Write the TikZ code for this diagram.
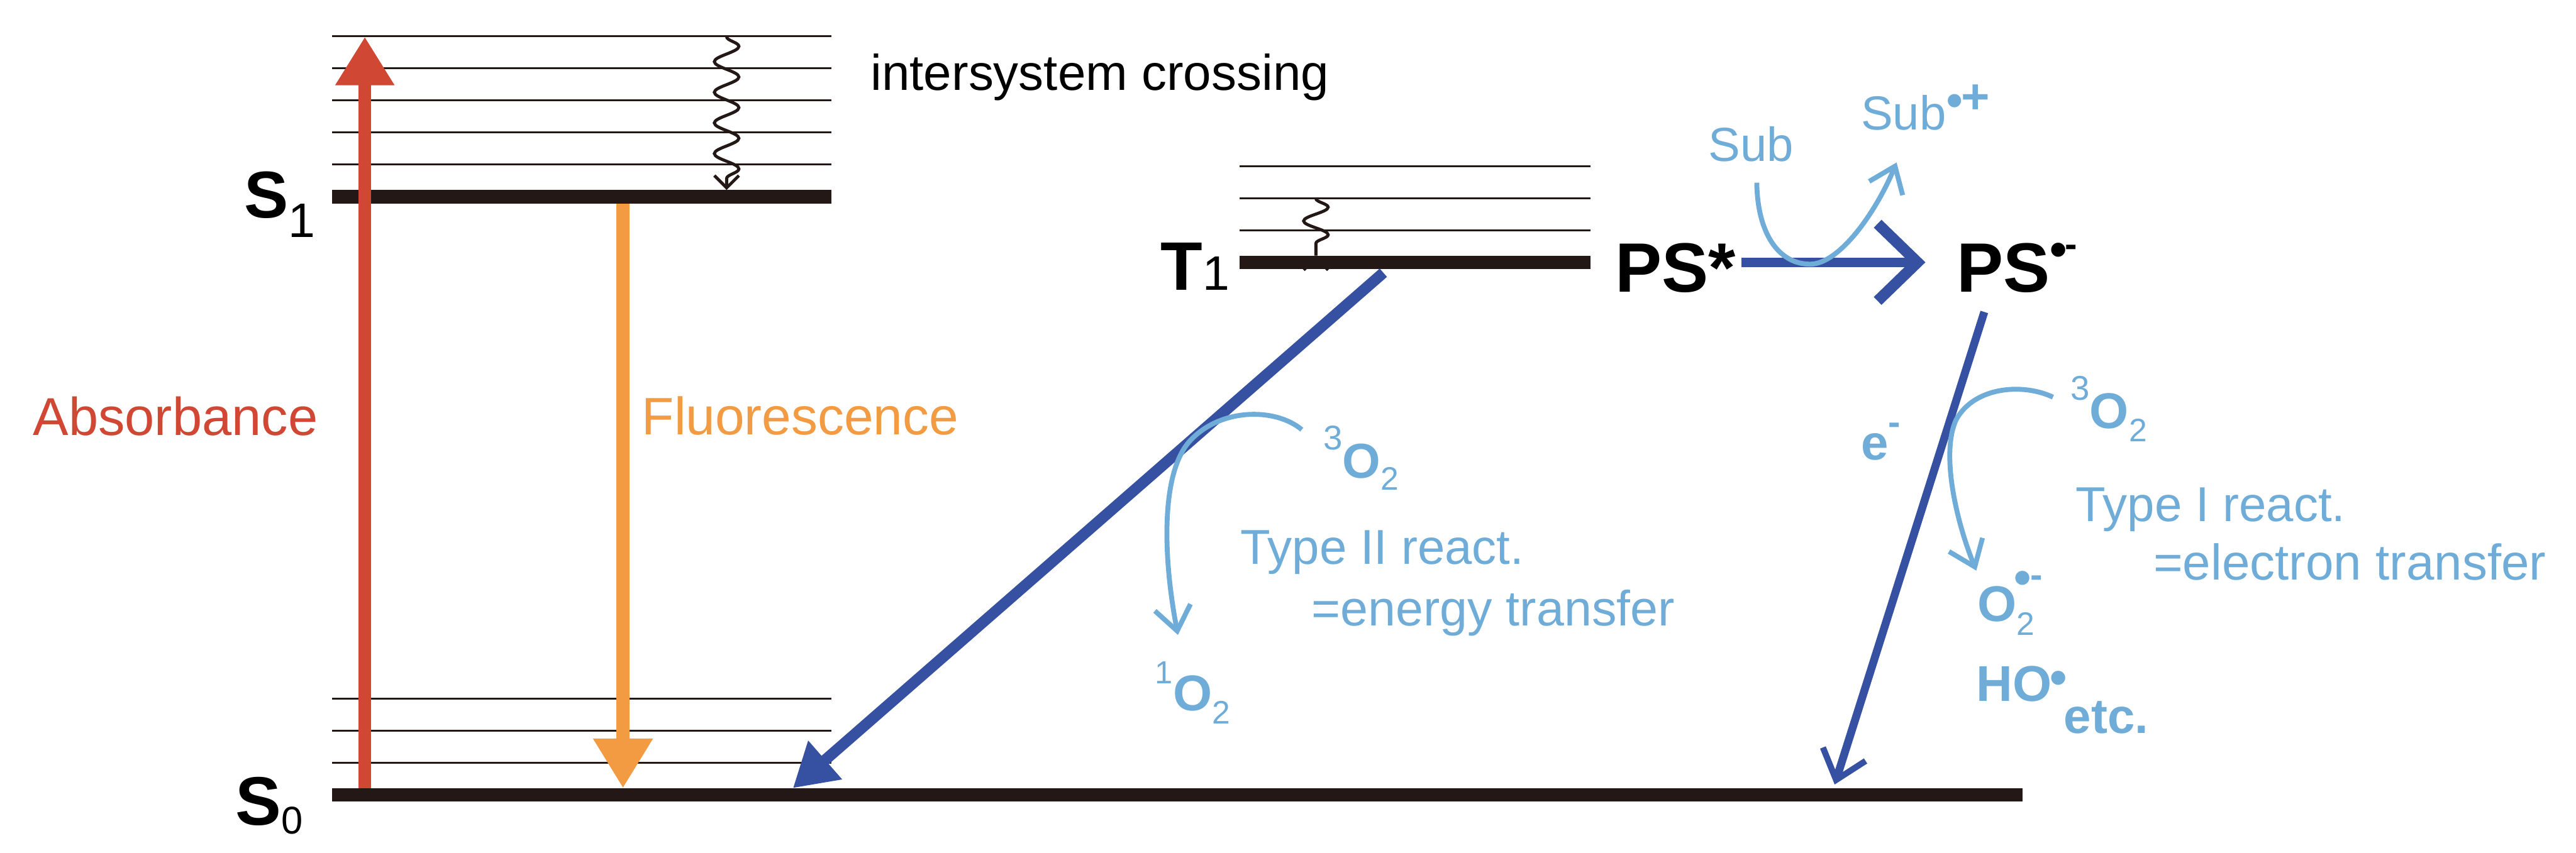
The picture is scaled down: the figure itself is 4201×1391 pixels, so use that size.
\documentclass[tikz,border=0pt]{standalone}
\usepackage{fontspec}
\setmainfont{Liberation Sans}
\usetikzlibrary{arrows.meta,decorations.pathmorphing}
\definecolor{lvl}{RGB}{35,24,21}
\definecolor{absred}{RGB}{208,71,51}
\definecolor{fluor}{RGB}{242,155,66}
\definecolor{dblue}{RGB}{54,81,161}
\definecolor{lblue}{RGB}{111,173,216}
\newcommand\fsz[1]{\fontsize{#1}{#1}\selectfont}
\begin{document}
\begin{tikzpicture}[x=0.1pt,y=-0.1pt,
  thinlvl/.style={draw=lvl,line width=0.32pt},
  thicklvl/.style={draw=lvl,line width=2.2pt},
  lbl/.style={anchor=base west,inner sep=0pt,outer sep=0pt},
  wavy/.style={draw=lvl,line width=0.5pt,decorate,decoration={snake,amplitude=2pt,segment length=5pt,post length=1.5pt},-{Straight Barb[length=2pt,width=4pt]}},
  lbarrow/.style={draw=lblue,line width=0.8pt,-{Straight Barb[length=3.9pt,width=5.9pt]}},
]
\useasboundingbox (0,0) rectangle (4201,1391);
% ---- S1 manifold
\foreach \yy in {59,111,164,216,268} \draw[thinlvl] (542,\yy) -- (1356,\yy);
\draw[thicklvl] (542,321) -- (1356,321);
% ---- S0 manifold
\foreach \yy in {1140,1192,1245} \draw[thinlvl] (542,\yy) -- (1356,\yy);
\draw[thicklvl] (542,1297) -- (3298,1297);
% ---- T1 manifold
\foreach \yy in {271,324,376} \draw[thinlvl] (2022,\yy) -- (2594,\yy);
\draw[thicklvl] (2022,428) -- (2594,428);

% ---- labels of states
\node[lbl] (S1) at (398,355) {\fsz{10.8}\bfseries S\fsz{7.9}\mdseries\raisebox{-3.2pt}{1}};
\node[lbl] (S0) at (384,1346) {\fsz{11.2}\bfseries S\fsz{6.3}\mdseries\raisebox{-1.5pt}{0}};
\node[lbl] (T1) at (1893,473) {\fsz{11.2}\bfseries T\fsz{7.9}\mdseries 1};
\node[lbl] (PSs) at (2634,476) {\fsz{11.4}\bfseries PS*};
\node[lbl] (PSr) at (3191,476) {\fsz{11.4}\bfseries PS\raisebox{4.2pt}{\fsz{8}•}\kern-0.3pt\raisebox{5.7pt}{\fsz{6}-}};

\node[lbl, absred] (absl) at (54,710) {\fsz{8.7}Absorbance};
\node[lbl, fluor] (fll) at (1047,709) {\fsz{8.6}Fluorescence};
\node[lbl] (isc) at (1420,147) {\fsz{8.2}intersystem crossing};

% ---- wavy relaxations
\coordinate (w1a) at (1185,60); \coordinate (w1b) at (1185,310);
\draw[wavy] (w1a) -- (w1b);
\coordinate (w2a) at (2146,324); \coordinate (w2b) at (2146,417);
\draw[wavy,decoration={segment length=4.5pt,post length=0.5pt}] (w2a) -- (w2b);

% ---- radiative arrows
\coordinate (absA) at (595,1286); \coordinate (absB) at (595,60);
\draw[absred,line width=2pt,-{Triangle[length=7.9pt,width=9.1pt]}] (absA) -- (absB);
\coordinate (flA) at (1016,332); \coordinate (flB) at (1016,1286);
\draw[fluor,line width=2.1pt,-{Triangle[length=8.1pt,width=9.2pt]}] (flA) -- (flB);

% ---- dark blue arrows
\coordinate (t1a) at (2256,445); \coordinate (t1b) at (1293,1286);
\draw[dblue,line width=1.8pt,-{Triangle[length=7pt,width=7.9pt]}] (t1a) -- (t1b);
\coordinate (hA) at (2840,428); \coordinate (hB) at (3140,428);
\draw[dblue,line width=1.6pt,-{Straight Barb[length=6.5pt,width=12.6pt,line width=1.8pt]}] (hA) -- (hB);
\coordinate (rA) at (3236,509); \coordinate (rB) at (2992,1280);
\draw[dblue,line width=1.3pt,-{Straight Barb[length=4.4pt,width=7.3pt,line width=1pt]}] (rA) -- (rB);

% ---- light blue texts
\begin{scope}[lblue]
\node[lbl] (sub) at (2786,263) {\fsz{7.8}Sub};
\node[lbl] (subp) at (3035,212) {\fsz{7.8}Sub\raisebox{2.1pt}{\fsz{8}•}\kern-0.3pt\raisebox{2.7pt}{\fsz{8}\bfseries +}};
\node[lbl] (o3a) at (2158,780) {\fsz{5.6}\raisebox{4.6pt}{3}\fsz{8}\bfseries O\fsz{5.3}\mdseries\raisebox{-1.9pt}{2}};
\node[lbl] (o1) at (1884,1159) {\fsz{5.2}\raisebox{4.4pt}{1}\fsz{8.2}\bfseries O\fsz{5.3}\mdseries\raisebox{-2.2pt}{2}};
\node[lbl] (t2a) at (2023,920) {\fsz{8}Type II react.};
\node[lbl] (t2b) at (2139,1021) {\fsz{8.1}=energy transfer};
\node[lbl] (em) at (3035,750) {\fsz{8}\bfseries e\raisebox{4.1pt}{\fsz{6}-}};
\node[lbl] (o3b) at (3377,699) {\fsz{5.6}\raisebox{4.6pt}{3}\fsz{8.2}\bfseries O\fsz{5.3}\mdseries\raisebox{-2.1pt}{2}};
\node[lbl] (t1t) at (3385,851) {\fsz{8}Type I react.};
\node[lbl] (t1u) at (3512,946) {\fsz{8.2}=electron transfer};
\node[lbl] (sup) at (3225,1014) {\fsz{8.2}\bfseries O\rlap{\fsz{5.3}\mdseries\raisebox{-2.2pt}{2}}\kern-0.4pt\raisebox{4.4pt}{\fsz{8}•}\kern-0.2pt\raisebox{5.6pt}{\fsz{6}\bfseries -}};
\node[lbl] (ho) at (3223,1144) {\fsz{8.2}\bfseries HO\kern-0.3pt\raisebox{1.1pt}{\fsz{8}•}};
\node[lbl] (etc) at (3366,1196) {\fsz{8}\bfseries etc.};
\end{scope}

% ---- light blue curved arrows
\coordinate (c1a) at (2865,298); \coordinate (c1m) at (2952,431); \coordinate (c1b) at (3093,265);
\draw[lbarrow] (c1a) .. controls (2866,380) and (2900,431) .. (c1m) .. controls (3000,431) and (3060,345) .. (c1b);
\coordinate (c2a) at (2123,701); \coordinate (c2m) at (1940,720); \coordinate (c2b) at (1921,1036);
\draw[lbarrow] (c2a) .. controls (2080,665) and (1990,665) .. (c2m) .. controls (1895,770) and (1895,900) .. (c2b);
\coordinate (c3a) at (3348,648); \coordinate (c3m) at (3190,685); \coordinate (c3b) at (3223,931);
\draw[lbarrow] (c3a) .. controls (3300,625) and (3220,630) .. (c3m) .. controls (3165,740) and (3190,850) .. (c3b);
\end{tikzpicture}
\end{document}
